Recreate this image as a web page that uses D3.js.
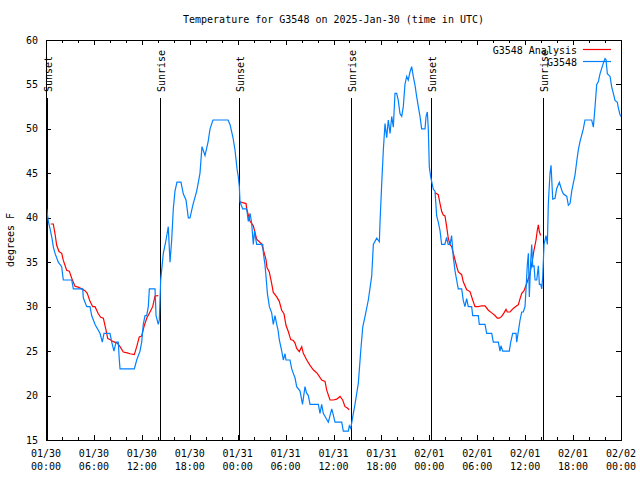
<!DOCTYPE html>
<html><head><meta charset="utf-8">
<script src="https://cdn.jsdelivr.net/npm/d3@7"></script>
<style>
body{margin:0;background:#fff}
text{font-family:"DejaVu Sans Mono",monospace;font-size:10px;fill:#000}
</style>
</head><body>
<svg id="chart" width="640" height="480"></svg>
<script>
// ---------------- data ----------------
const titleText = "Temperature for G3548 on 2025-Jan-30 (time in UTC)";
const yLabelText = "degrees F";
const startUTC = Date.UTC(2025, 0, 30, 0, 0);
const spanHours = 72;
const yTicks = [15, 20, 25, 30, 35, 40, 45, 50, 55, 60];
const seriesNames = ["G3548 Analysis", "G3548"];
const seriesColors = ["#ff0000", "#0080ff"];

// observed G3548 (hours since 01/30 00:00 UTC, degrees F)
const obsHours = [0.09,0.29,0.5,0.75,0.92,1.13,1.54,1.96,2.17,3.22,3.42,4.6,4.67,5.1,5.51,5.72,6.14,6.76,7.05,7.26,8.01,8.23,8.51,8.77,9.05,9.18,9.27,11.06,11.36,11.77,11.98,12.18,12.4,12.61,12.81,12.94,13.65,13.78,14.06,14.19,14.36,14.69,15.03,15.31,15.53,15.74,15.94,16.15,16.4,16.9,17.19,17.53,17.82,18.03,18.41,18.87,19.28,19.53,19.91,20.29,20.54,20.91,22.79,23.04,23.42,23.67,23.92,24.08,24.21,24.29,24.63,25.13,25.33,25.55,25.74,25.96,26.11,26.38,27.14,27.22,27.42,27.55,27.72,27.97,28.26,28.46,28.68,28.89,29.05,29.21,29.52,29.72,29.93,30.05,30.55,30.77,30.97,31.18,31.39,31.81,32.12,32.43,32.62,32.85,33.06,34.1,34.31,34.52,34.72,35.35,35.78,35.98,36.19,37.03,37.23,37.86,37.98,38.16,38.41,38.69,39.11,39.41,39.66,39.95,40.36,40.78,40.99,41.41,41.74,41.82,42.04,42.24,42.45,42.66,42.86,43.08,43.29,43.49,43.7,43.91,44.11,44.33,44.54,44.74,44.95,45.16,45.36,45.58,45.79,45.99,46.21,46.42,46.62,46.83,47.04,47.46,47.59,47.75,47.87,48.0,48.17,48.5,48.71,48.92,49.12,49.33,49.54,49.95,50.16,50.36,50.59,50.79,51.0,51.22,51.42,51.62,52.05,52.25,52.46,52.67,52.88,53.3,53.43,54.13,54.26,54.97,55.18,55.81,56.01,56.64,56.85,56.97,57.19,58.01,58.19,58.44,58.86,58.94,59.14,59.36,59.57,59.77,59.98,60.11,60.27,60.4,60.52,60.7,60.82,60.95,61.11,61.24,61.45,61.65,61.78,61.95,62.08,62.2,62.36,62.49,62.61,62.78,62.9,63.11,63.24,63.45,63.74,63.95,64.28,64.58,64.78,65.21,65.41,65.62,65.83,66.03,66.24,66.45,66.65,66.87,67.08,67.28,67.49,68.33,68.54,68.75,68.96,69.16,69.37,69.58,69.79,70.0,70.12,70.29,70.63,70.84,71.04,71.25,71.54,71.66,71.88,72.0];
const obsTemps = [41,39.6,38.8,37.7,36.7,36,35,34.5,33,33,32,32,31,30,30,29,28,27,26,27,27,26,25,26,26,24,23,23,24,25,26,28,29,29,30,32,32,29,28,28.5,33,36,37.5,39,35,37.5,41,43,44,44,42.7,42,40,40,41.5,43,45,48,47,48.5,50,51,51,50.5,49,47.6,45.5,44.6,43.5,41.8,41,41,39.6,40.5,39.5,37,38.5,37,37,36,34.7,33.4,31.5,30,29.3,28,29,28,27.4,26.3,25,24,24.7,24,24,23,22.5,22,21,20.5,19,21,20.3,20,19,19,18,19,18,17,18.5,17.8,17,17,16,16,16.6,16.3,17.6,19,21.4,25,27.7,28.9,30.75,33.4,37,37.7,37.3,39.4,43.9,47.6,50.6,49,51,49.5,51.4,50.2,54,54,53.2,51.7,51.4,52.5,55,55.9,55.5,56.4,57,55.9,54.9,53.6,52.5,51.4,50,50,51.4,51.9,50,45.7,44.6,43.2,43,40.2,39.5,38.6,37,37,37.8,37,37,38,35.6,34,33,32,32,30.7,30,30.9,30,30,29,29,28,28,27,27,26,26,25,25.6,25,25,26,27,27,26,27.2,28.5,29.4,29.4,30,32,34.7,36,31.1,35.2,37,34.5,34.6,33,33,34.6,32.5,32.5,32,33.4,37,37.5,38,37,41.6,45,45.9,42.1,42.2,43.3,44,43.1,42.7,42.4,41.4,41.6,43,43.9,44.8,46.3,47.6,48.6,49.3,50,51,51,50.2,52.5,55,55.3,56.2,56.8,57.4,57.9,57.8,56.2,55.9,54.7,54,53.2,53,52.4,51.6,51.4];

// analysis (night-time only; null = gap)
const anaHours = [0.59,0.91,1.13,1.34,1.63,1.97,2.17,2.59,2.92,3.22,3.63,4.04,4.47,4.88,5.17,5.51,5.85,6.14,6.55,6.85,7.18,7.51,7.73,8.01,8.43,8.93,9.27,9.68,10.18,10.52,11.06,11.36,11.68,11.98,12.27,12.61,12.94,13.36,13.65,14.06,
  19,
  24.29,24.63,25.05,25.13,25.55,25.96,26.38,26.71,27.01,27.21,27.55,27.67,27.96,28.26,28.46,28.89,29.21,29.51,29.8,30.05,30.34,30.64,30.97,31.18,31.39,31.72,32.02,32.22,32.65,33.06,33.47,33.97,34.52,34.94,35.15,35.56,35.98,36.4,36.82,37.15,37.44,37.73,37.98,
  43,
  48.71,48.84,49.12,49.34,49.55,49.75,49.96,50.17,50.37,50.59,50.8,51.0,51.22,51.43,51.63,51.84,52.05,52.25,52.68,53.09,53.43,53.72,54.13,54.56,54.97,55.39,55.81,56.22,56.51,56.76,57.06,57.35,57.6,57.76,58.1,58.51,58.94,59.14,59.36,59.57,59.86,60.19,60.61,60.94,61.11,61.36,61.52,61.65,61.78,61.95];
const anaTemps = [39.3,39.3,38.2,36.9,36.2,36,35.2,34.1,34,33.2,32.3,32.2,32,31.8,31.5,30.6,30,30,29.2,28.8,28.7,27.4,26.4,26.3,26.06,25.9,25.5,24.9,24.8,24.7,24.6,25.5,26.6,26.7,27.75,28.7,29.25,30,31.2,31.25,
  null,
  41.8,41.7,41.6,41,39.6,39.1,37.6,37.3,37.05,36.4,35.3,34.4,33.9,32.6,31.6,31.1,30.6,29.6,29.2,27.9,27.2,26.3,26.2,25.9,25.3,24.95,25.5,24.75,24,23.4,22.9,22.5,21.75,21.6,20.6,19.5,19.5,19.6,19.9,19.5,18.75,18.6,18.4,
  null,
  42.8,42.75,42.6,41.6,40.7,40.3,40.2,39,37.7,37,36.75,36,35.25,34.5,33.9,33.75,33.6,32.8,31.9,31.7,30.75,30,30,30.1,30.1,29.6,29.3,29,28.7,28.7,28.9,29.3,29.7,29.4,29.4,29.8,30.1,30.2,30.9,31.5,31.8,32.6,33.75,35.4,36.4,37.5,38.6,39.2,38.4,38];

// sunrise / sunset markers
const eventHours = [0.07, 14.28, 24.15, 38.2, 48.18, 62.27];
const eventLabels = ["Sunset", "Sunrise", "Sunset", "Sunrise", "Sunset", "Sunrise"];

// ---------------- drawing ----------------
const H = 3600 * 1000;
const toDate = h => new Date(startUTC + h * H);
const L = 46, R = 621, T = 40, B = 440;

const svg = d3.select("#chart");
const x = d3.scaleUtc().domain([toDate(0), toDate(spanHours)]).range([L, R]);
const y = d3.scaleLinear().domain([15, 60]).range([B, T]);

// title
svg.append("text").attr("x", (L + R) / 2).attr("y", 23)
  .attr("text-anchor", "middle").text(titleText);

// y label
svg.append("text").attr("transform", "translate(14,240) rotate(-90)")
  .attr("text-anchor", "middle").text(yLabelText);

// y ticks (both sides, inward) and labels
const gy = svg.append("g").attr("shape-rendering", "crispEdges");
yTicks.forEach(v => {
  const yy = Math.round(y(v)) + 0.5;
  gy.append("line").attr("x1", L).attr("x2", L + 5).attr("y1", yy).attr("y2", yy).attr("stroke", "#000");
  gy.append("line").attr("x1", R - 5).attr("x2", R).attr("y1", yy).attr("y2", yy).attr("stroke", "#000");
  svg.append("text").attr("x", 38).attr("y", y(v) + 3.5).attr("text-anchor", "end").text(v);
});

// x ticks: major every 6h, minor every 2h
const majors = x.ticks(d3.utcHour.every(6));
const minors = x.ticks(d3.utcHour.every(2));
const gx = svg.append("g").attr("shape-rendering", "crispEdges");
minors.forEach(d => {
  const isMajor = d.getUTCHours() % 6 === 0;
  const len = isMajor ? 5 : 3;
  const xx = Math.round(x(d)) + 0.5;
  gx.append("line").attr("x1", xx).attr("x2", xx).attr("y1", B).attr("y2", B - len).attr("stroke", "#000");
  gx.append("line").attr("x1", xx).attr("x2", xx).attr("y1", T).attr("y2", T + len).attr("stroke", "#000");
});
const fDay = d3.utcFormat("%m/%d"), fTime = d3.utcFormat("%H:%M");
majors.forEach(d => {
  svg.append("text").attr("x", x(d)).attr("y", 457).attr("text-anchor", "middle").text(fDay(d));
  svg.append("text").attr("x", x(d)).attr("y", 470).attr("text-anchor", "middle").text(fTime(d));
});

// event lines
const ge = svg.append("g");
eventHours.forEach((h, i) => {
  const xx = Math.round(x(toDate(h))) + 0.5;
  ge.append("line").attr("x1", xx).attr("x2", xx).attr("y1", 98).attr("y2", B)
    .attr("stroke", "#000").attr("shape-rendering", "crispEdges");
  ge.append("text").attr("transform", `translate(${xx + 4},92) rotate(-90)`)
    .attr("text-anchor", "start").text(eventLabels[i]);
});

// series
const line = d3.line()
  .defined(d => d[1] !== null)
  .x(d => x(toDate(d[0])))
  .y(d => y(d[1]));
const anaData = anaHours.map((h, i) => [h, anaTemps[i]]);
const obsData = obsHours.map((h, i) => [h, obsTemps[i]]);
svg.append("path").datum(anaData).attr("d", line)
  .attr("fill", "none").attr("stroke", seriesColors[0]).attr("stroke-width", 1.2);
svg.append("path").datum(obsData).attr("d", line)
  .attr("fill", "none").attr("stroke", seriesColors[1]).attr("stroke-width", 1.2);

// frame
svg.append("rect").attr("x", L + 0.5).attr("y", T + 0.5).attr("width", R - L).attr("height", B - T)
  .attr("fill", "none").attr("stroke", "#000").attr("shape-rendering", "crispEdges");

// legend
const legY = [50, 62];
seriesNames.forEach((n, i) => {
  svg.append("text").attr("x", 577).attr("y", legY[i] + 4).attr("text-anchor", "end").text(n);
  svg.append("line").attr("x1", 583).attr("x2", 611).attr("y1", legY[i] - 0.5).attr("y2", legY[i] - 0.5)
    .attr("stroke", seriesColors[i]).attr("stroke-width", 1.2);
});
</script>
</body></html>
